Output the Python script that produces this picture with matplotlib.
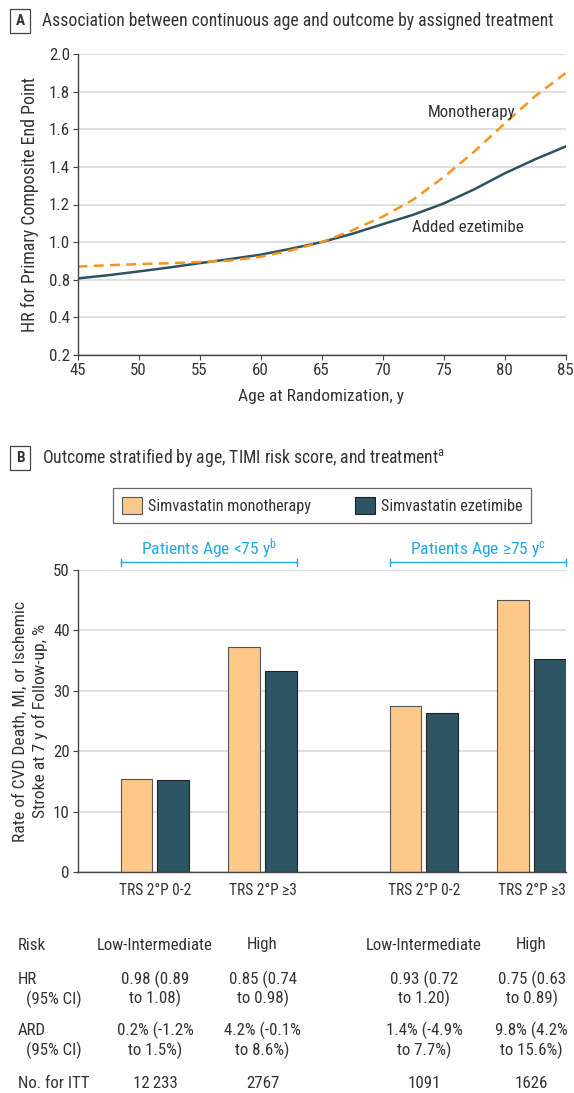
import matplotlib
matplotlib.use('Agg')
import matplotlib.pyplot as plt
from matplotlib import transforms

plt.rcParams['font.family'] = ['Roboto Condensed', 'Liberation Sans Narrow', 'Roboto', 'DejaVu Sans']

# ---- panel A data ----
age = [45, 47.5, 50, 52.5, 55, 57.5, 60, 62.5, 65, 67.5, 70, 72.5, 75, 77.5, 80, 82.5, 85]
hr_ezetimibe = [0.807, 0.824, 0.844, 0.865, 0.888, 0.91, 0.933, 0.965, 1.0, 1.044,
                1.095, 1.145, 1.205, 1.28, 1.365, 1.44, 1.508]
hr_mono = [0.87, 0.877, 0.883, 0.888, 0.894, 0.902, 0.922, 0.956, 1.0, 1.062,
           1.135, 1.225, 1.345, 1.48, 1.63, 1.775, 1.898]
age_ticks = [45, 50, 55, 60, 65, 70, 75, 80, 85]
# the original axis skips 0.6 (evenly spaced gridlines)
hr_tick_pos = [0.4, 0.6, 0.8, 1.0, 1.2, 1.4, 1.6, 1.8, 2.0]
hr_tick_labels = ['0.2', '0.4', '0.8', '1.0', '1.2', '1.4', '1.6', '1.8', '2.0']

# ---- panel B data ----
groups = ['TRS 2°P 0-2', 'TRS 2°P ≥3', 'TRS 2°P 0-2', 'TRS 2°P ≥3']
group_x = [0, 1, 2.5, 3.5]
rate_mono = [15.4, 37.3, 27.5, 45.1]
rate_ezetimibe = [15.3, 33.2, 26.3, 35.3]

row_names = [('Risk', None), ('HR', '(95% CI)'), ('ARD', '(95% CI)'), ('No. for ITT', None)]
risk = ['Low-Intermediate', 'High', 'Low-Intermediate', 'High']
hr_ci = ['0.98 (0.89\nto 1.08)', '0.85 (0.74\nto 0.98)', '0.93 (0.72\nto 1.20)', '0.75 (0.63\nto 0.89)']
ard_ci = ['0.2% (-1.2%\nto 1.5%)', '4.2% (-0.1%\nto 8.6%)', '1.4% (-4.9%\nto 7.7%)', '9.8% (4.2%\nto 15.6%)']
n_itt = ['12\u2009233', '2767', '1091', '1626']

ORANGE = '#f7941d'
TEAL = '#2c5361'
PEACH = '#fdc98a'
BARTEAL = '#2e5563'
CYAN = '#1fa9e1'
TXT = '#333333'
GRID = '#d9d9d9'
FS = 12.2
H = 1093.0

fig = plt.figure(figsize=(5.74, 10.93), dpi=100)

def fy(px):
    return 1 - px / H

def style_axes(ax):
    for s in ['top', 'right']:
        ax.spines[s].set_visible(False)
    for s in ['left', 'bottom']:
        ax.spines[s].set_color('#444444')
        ax.spines[s].set_linewidth(1.0)
    ax.yaxis.grid(True, color=GRID, linewidth=1.2)
    ax.set_axisbelow(True)
    ax.tick_params(colors='#444444', labelcolor=TXT, labelsize=FS, length=3.5, pad=2)

def panel_title(ypx, letter, text):
    fig.text(20 / 574, fy(ypx), letter, fontsize=11, fontweight='bold', color=TXT,
             ha='center', va='center',
             bbox=dict(boxstyle='square,pad=0.35', fc='white', ec='#444444', lw=0.9))
    fig.text(41.5 / 574, fy(ypx), text, fontsize=12.7, color=TXT, ha='left', va='center')

# ---------------- panel A ----------------
panel_title(21, 'A', 'Association between continuous age and outcome by assigned treatment')
axA = fig.add_axes([77.5 / 574, fy(355), 488 / 574, 301 / H])
style_axes(axA)
axA.plot(age, hr_ezetimibe, color=TEAL, lw=1.8)
axA.plot(age, hr_mono, color=ORANGE, lw=1.8, dashes=(4, 2.5))
axA.set_xlim(45, 85)
axA.set_ylim(0.4, 2.0)
axA.set_xticks(age_ticks)
axA.set_yticks(hr_tick_pos)
axA.set_yticklabels(hr_tick_labels)
axA.set_xlabel('Age at Randomization, y', fontsize=12.5, color=TXT, labelpad=8)
axA.set_ylabel('HR for Primary Composite End Point', fontsize=12.9, color=TXT, labelpad=7)
axA.text(73.7, 1.688, 'Monotherapy', fontsize=FS, color=TXT, ha='left', va='center')
axA.text(72.4, 1.076, 'Added ezetimibe', fontsize=FS, color=TXT, ha='left', va='center')

# ---------------- panel B ----------------
panel_title(458, 'B', r'Outcome stratified by age, TIMI risk score, and treatment$\mathregular{^a}$')
axB = fig.add_axes([77.5 / 574, fy(872), 488.5 / 574, 302 / H])
style_axes(axB)
w = 0.295
off = 0.171
xm = [x - off for x in group_x]
xe = [x + off for x in group_x]
axB.bar(xm, rate_mono, width=w, color=PEACH, edgecolor='#555555', linewidth=0.8,
        label='Simvastatin monotherapy')
axB.bar(xe, rate_ezetimibe, width=w, color=BARTEAL, edgecolor='#222222', linewidth=0.8,
        label='Simvastatin ezetimibe')
axB.set_xlim(-0.72, 3.82)
axB.set_ylim(0, 50)
axB.set_yticks([0, 10, 20, 30, 40, 50])
axB.set_xticks(group_x)
axB.set_xticklabels(groups, fontsize=11.2)
axB.tick_params(axis='x', length=0, pad=8)
axB.set_ylabel('Rate of CVD Death, MI, or Ischemic\nStroke at 7 y of Follow-up, %',
               fontsize=12.6, color=TXT, labelpad=4, linespacing=1.3)

leg = fig.legend(loc='center', bbox_to_anchor=(322 / 574, fy(505.5)), ncol=2,
                 frameon=True, fancybox=False, edgecolor='#444444', fontsize=11.7,
                 handlelength=1.25, handleheight=1.25, columnspacing=2.7,
                 borderpad=0.55, handletextpad=0.35)
leg.get_frame().set_linewidth(0.9)
for t in leg.get_texts():
    t.set_color(TXT)

# age brackets above plot
tb = transforms.blended_transform_factory(axB.transData, axB.transAxes)
brackets = [(-0.32, 1.32, r'Patients Age <75 y$\mathregular{^b}$'),
            (2.18, 3.82, r'Patients Age ≥75 y$\mathregular{^c}$')]
for x0, x1, lab in brackets:
    yb = 1.0255
    axB.plot([x0, x1], [yb, yb], color=CYAN, lw=1.0, transform=tb, clip_on=False)
    axB.plot([x0, x0], [yb - 0.012, yb + 0.012], color=CYAN, lw=1.0, transform=tb, clip_on=False)
    axB.plot([x1, x1], [yb - 0.012, yb + 0.012], color=CYAN, lw=1.0, transform=tb, clip_on=False)
    axB.text((x0 + x1) / 2, 1.0695, lab, transform=tb, color=CYAN, fontsize=12.6,
             ha='center', va='center')

# table under the bars
tt = transforms.blended_transform_factory(axB.transData, fig.transFigure)
row_y = [945, 989, 1040.5, 1083]
for (name, sub), yy in zip(row_names, row_y):
    if sub is None:
        fig.text(18 / 574, fy(yy), name, fontsize=FS, color=TXT, va='center')
    else:
        fig.text(18 / 574, fy(yy - 10), name, fontsize=FS, color=TXT, va='center')
        fig.text(26 / 574, fy(yy + 10), sub, fontsize=FS, color=TXT, va='center')
for i, x in enumerate(group_x):
    for yy, col in zip(row_y, [risk, hr_ci, ard_ci, n_itt]):
        axB.text(x, fy(yy), col[i], transform=tt, fontsize=FS, color=TXT,
                 ha='center', va='center', multialignment='center', linespacing=1.17,
                 clip_on=False)

fig.savefig('out.png', dpi=100)
